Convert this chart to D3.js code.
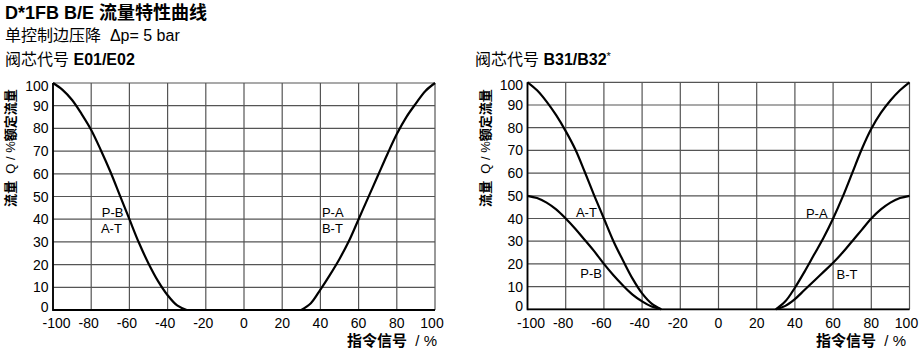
<!DOCTYPE html>
<html>
<meta charset="utf-8">
<head>
  <title>D*1FB B/E flow curves</title>
</head>
<style>
body { margin: 0; background: #fff; }
svg { display: block; font-family: "Liberation Sans", Arial, "Noto Sans CJK SC", sans-serif; }
text { white-space: pre; fill: #000; }
.grid line { stroke: #555; stroke-width: 1.2px; }
.frame { stroke: #000; stroke-width: 1.8px; }
.curve { fill: none; stroke: #000; stroke-width: 2.2px; }
.tick { font-size: 14px; }
.lbl { font-size: 13px; }
</style>
<body>
<script src="https://cdnjs.cloudflare.com/ajax/libs/d3/7.8.5/d3.min.js"></script>
<script>

// signal (x) values, %
var signalNeg = [-100, -95, -90, -85, -80, -75, -70, -65, -60, -55, -50, -45, -40, -35, -30];
var signalPos = [30, 35, 40, 45, 50, 55, 60, 65, 70, 75, 80, 85, 90, 95, 100];

// spool E01/E02
var e01PB = [100, 97, 92.5, 86.3, 79.3, 70.5, 61, 50.5, 40, 29.6, 20.5, 12.7, 6.5, 2, 0];
var e01PA = [0, 3, 9, 15.5, 22.5, 30.5, 40, 49.5, 59, 68.5, 77.5, 85, 91, 96.5, 100];

// spool B31/B32
var b31AT = [100, 96.5, 91.5, 85.5, 78.5, 70.5, 60.5, 50, 40, 30, 21.5, 13.5, 7, 2.5, 0];
var b31PB = [50, 49, 47, 44, 40, 35.5, 30.5, 25.5, 20, 15, 10.5, 6.5, 3.5, 1.2, 0];
var b31PA = [0, 3.5, 9.5, 16.5, 24, 31.5, 40, 49.5, 60, 70.5, 79.5, 86.5, 92, 96.5, 100];
var b31BT = [0, 1.5, 4.5, 8.5, 12.5, 16.5, 20.5, 25, 30, 35, 40, 44, 47, 49, 50];

var xTicks = [-100, -80, -60, -40, -20, 0, 20, 40, 60, 80, 100];
var yTicks = [0, 10, 20, 30, 40, 50, 60, 70, 80, 90, 100];

var width = 924, height = 353;

var svg = d3.select("body").append("svg")
    .attr("width", width)
    .attr("height", height);

// headings
svg.append("text").attr("x", 5).attr("y", 18.5)
    .style("font-size", "18px").style("font-weight", "bold")
    .text("D*1FB B/E 流量特性曲线");
svg.append("text").attr("x", 5).attr("y", 40.5)
    .style("font-size", "16px")
    .text("单控制边压降  Δp= 5 bar");

function spoolTitle(x, code, star) {
  var t = svg.append("text").attr("x", x).attr("y", 65).style("font-size", "16px");
  t.append("tspan").text("阀芯代号 ");
  t.append("tspan").style("font-weight", "bold").text(code);
  if (star) t.append("tspan").attr("dy", -5).style("font-size", "11px").text("*");
}
spoolTitle(5, "E01/E02", false);
spoolTitle(475, "B31/B32", true);

function pairs(xs, ys) {
  return xs.map(function(d, i) { return [d, ys[i]]; });
}

function panel(opt) {
  var x = d3.scaleLinear().domain([-100, 100]).range([opt.left, opt.left + 382]);
  var y = d3.scaleLinear().domain([0, 100]).range([opt.bottom, opt.bottom - 227]);
  var g = svg.append("g");

  var grid = g.append("g").attr("class", "grid");
  grid.selectAll(".vx").data(xTicks).enter().append("line")
      .attr("x1", function(d) { return x(d); }).attr("x2", function(d) { return x(d); })
      .attr("y1", y(0)).attr("y2", y(100));
  grid.selectAll(".hy").data(yTicks).enter().append("line")
      .attr("y1", function(d) { return y(d); }).attr("y2", function(d) { return y(d); })
      .attr("x1", x(-100)).attr("x2", x(100));

  g.append("line").attr("class", "frame")
      .attr("x1", x(-100)).attr("x2", x(-100)).attr("y1", y(0) + 0.9).attr("y2", y(100));
  g.append("line").attr("class", "frame")
      .attr("x1", x(-100)).attr("x2", x(100)).attr("y1", y(0)).attr("y2", y(0));

  // tick labels
  g.selectAll(".yt").data(yTicks).enter().append("text")
      .attr("class", "tick")
      .attr("text-anchor", "end")
      .attr("x", x(-100) - 4.5)
      .attr("y", function(d) { return y(d) + 5 + (d === 100 ? 2.5 : d === 0 ? -3 : 0); })
      .text(function(d) { return d; });
  g.selectAll(".xt").data(xTicks).enter().append("text")
      .attr("class", "tick")
      .attr("text-anchor", "middle")
      .attr("x", function(d) {
        var off = d === -100 ? 3.5 : d === 100 ? -3 : d < 0 ? -2.5 : 0;
        return x(d) + off;
      })
      .attr("y", 328)
      .text(function(d) { return d; });

  // axis titles
  var yl = g.append("text")
      .attr("transform", "translate(" + (x(-100) - 38) + "," + 148 + ") rotate(-90)")
      .attr("text-anchor", "middle")
      .style("font-size", "13px");
  yl.append("tspan").style("font-weight", "bold").text("流量");
  yl.append("tspan").text("  Q / %");
  yl.append("tspan").style("font-weight", "bold").text("额定流量");

  var xl = g.append("text")
      .attr("x", opt.xLabelEnd).attr("y", 345.5)
      .attr("text-anchor", "end")
      .style("font-size", "15px");
  xl.append("tspan").style("font-weight", "bold").text("指令信号");
  xl.append("tspan").text("  / %");

  var line = d3.line()
      .x(function(d) { return x(d[0]); })
      .y(function(d) { return y(d[1]); })
      .curve(d3.curveCatmullRom.alpha(0.5));

  g.selectAll(".curve").data(opt.series).enter().append("path")
      .attr("class", "curve")
      .attr("d", function(d) { return line(pairs(d.xs, d.ys)); });

  opt.labels.forEach(function(l) {
    g.append("text").attr("class", "lbl")
        .attr("text-anchor", l.anchor)
        .attr("x", x(l.sx) + l.dx)
        .attr("y", y(l.sy) + 4.5)
        .text(l.text);
  });
}

panel({
  left: 53, bottom: 310, xLabelEnd: 437,
  series: [
    { xs: signalNeg, ys: e01PB },
    { xs: signalPos, ys: e01PA }
  ],
  labels: [
    { text: "P-B", anchor: "end", sx: -60, sy: 42.9, dx: -6 },
    { text: "A-T", anchor: "end", sx: -60, sy: 36.1, dx: -7.5 },
    { text: "P-A", anchor: "start", sx: 40, sy: 42.9, dx: 1.5 },
    { text: "B-T", anchor: "start", sx: 40, sy: 36.1, dx: 1.5 }
  ]
});

panel({
  left: 527.5, bottom: 309.3, xLabelEnd: 906,
  series: [
    { xs: signalNeg, ys: b31AT },
    { xs: signalNeg, ys: b31PB },
    { xs: signalPos, ys: b31PA },
    { xs: signalPos, ys: b31BT }
  ],
  labels: [
    { text: "A-T", anchor: "end", sx: -60, sy: 42.5, dx: -7 },
    { text: "P-B", anchor: "end", sx: -60, sy: 15.8, dx: -2 },
    { text: "P-A", anchor: "end", sx: 60, sy: 42.2, dx: -5.5 },
    { text: "B-T", anchor: "start", sx: 60, sy: 15.5, dx: 3.5 }
  ]
});

</script>
</body>
</html>
